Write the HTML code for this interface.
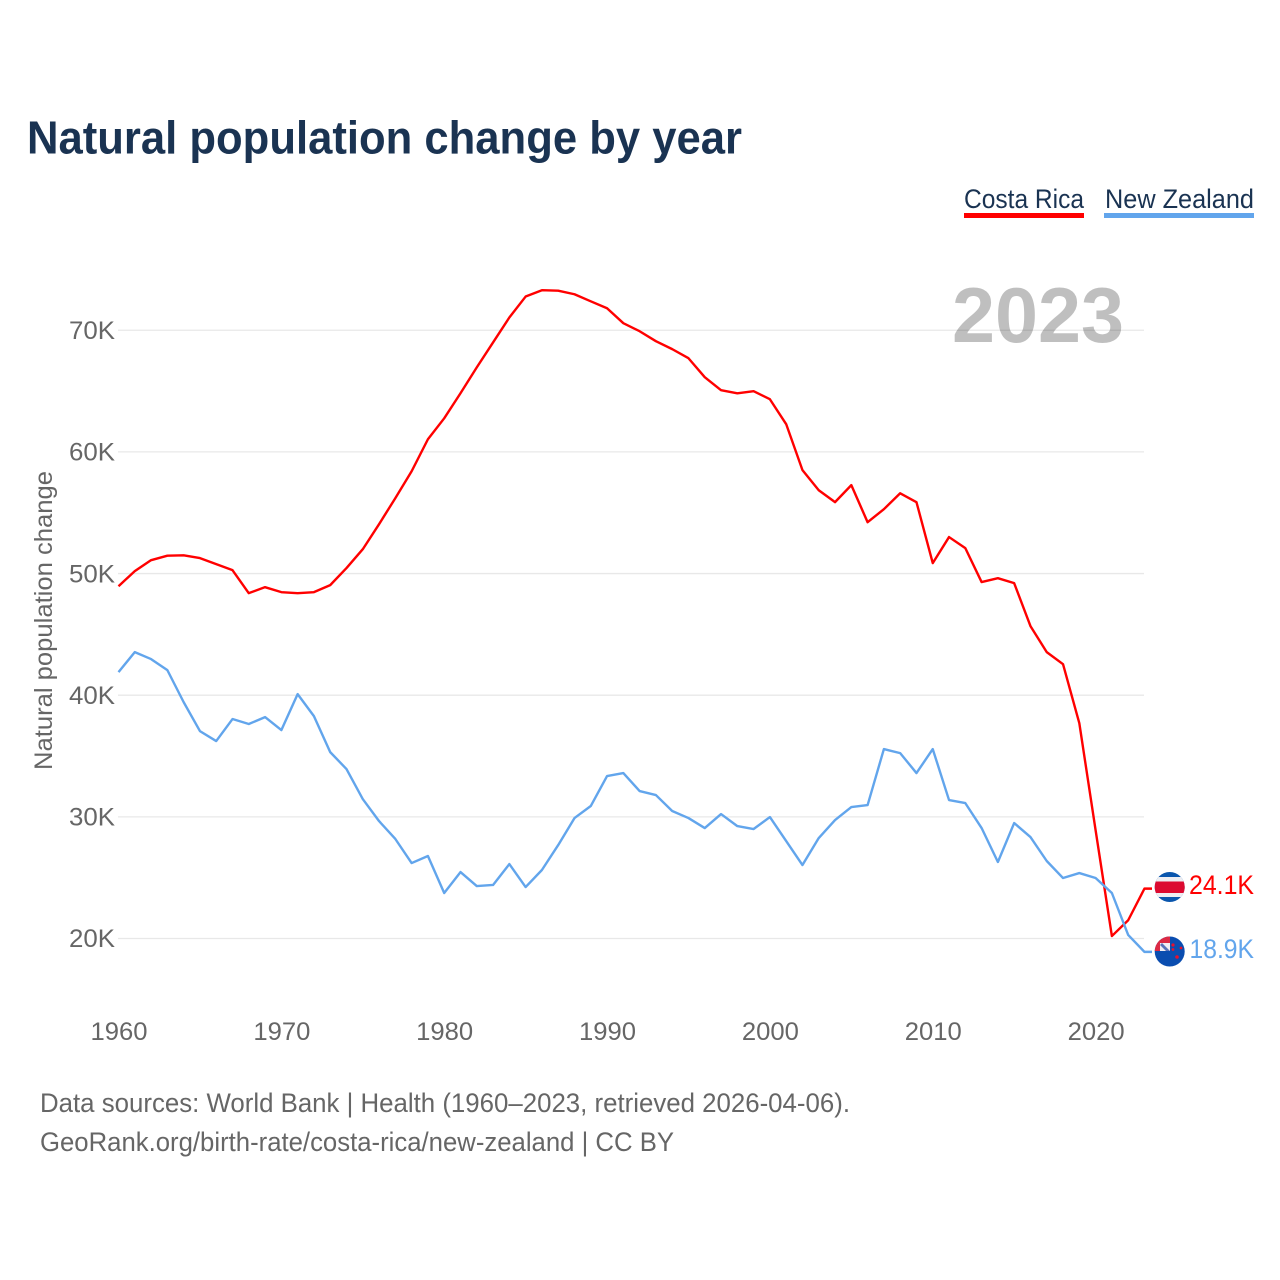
<!DOCTYPE html>
<html lang="en">
<head>
<meta charset="utf-8">
<title>Natural population change by year</title>
<style>
html,body{margin:0;padding:0;background:#fff;}
svg{display:block;font-family:"Liberation Sans",sans-serif;}
</style>
</head>
<body>
<svg id="chart" xmlns="http://www.w3.org/2000/svg" width="1280" height="1280" viewBox="0 0 1280 1280">
  <rect x="0" y="0" width="1280" height="1280" fill="#ffffff"/>
  <text x="27" y="153.5" font-size="46" font-weight="700" fill="#1a3352" textLength="715" lengthAdjust="spacingAndGlyphs">Natural population change by year</text>

  <g>
    <text x="964" y="208" font-size="27" fill="#1a3352" textLength="120" lengthAdjust="spacingAndGlyphs">Costa Rica</text>
    <rect x="964" y="213" width="120" height="5" fill="#ff0000"/>
  </g>
  <g>
    <text x="1105" y="208" font-size="27" fill="#1a3352" textLength="149" lengthAdjust="spacingAndGlyphs">New Zealand</text>
    <rect x="1104" y="213" width="150" height="5" fill="#62a5ec"/>
  </g>

  <g id="grid"></g>
  <text x="952" y="342" font-size="78" font-weight="700" fill="#000000" fill-opacity="0.25" textLength="172" lengthAdjust="spacingAndGlyphs">2023</text>
  <g id="yticks"></g>
  <g id="xticks"></g>
  <text transform="translate(52 770) rotate(-90)" x="0" y="0" font-size="25" fill="#666666" textLength="299" lengthAdjust="spacingAndGlyphs">Natural population change</text>

  <path id="line-cr" fill="none" stroke="#ff0000" stroke-width="2.4" stroke-linejoin="round"/>
  <path id="line-nz" fill="none" stroke="#62a5ec" stroke-width="2.4" stroke-linejoin="round"/>

  <defs>
    <clipPath id="clip-cr"><circle cx="1169.7" cy="887" r="15"/></clipPath>
    <clipPath id="clip-nz"><circle cx="1169.7" cy="951.5" r="15"/></clipPath>
  </defs>

  <g clip-path="url(#clip-nz)">
    <rect x="1154" y="936" width="32" height="32" fill="#0a4db0"/>
    <rect x="1154" y="936" width="16" height="15" fill="#dd2a44"/>
    <path d="M1160 951 V943 H1170 V951 Z" fill="#f2eef2"/>
    <path d="M1162 943 L1170 951 H1166 L1160 945 Z" fill="#5a72b8"/>
    <circle cx="1173" cy="945" r="1.6" fill="#e8112d"/>
    <circle cx="1181" cy="948" r="1.4" fill="#e8112d"/>
    <circle cx="1173" cy="949.5" r="1.4" fill="#e8112d"/>
    <circle cx="1177" cy="957" r="1.8" fill="#e8112d"/>
  </g>
  <text id="label-nz" x="1189.5" y="958" font-size="27" fill="#62a5ec" textLength="64.5" lengthAdjust="spacingAndGlyphs"></text>

  <g clip-path="url(#clip-cr)">
    <rect x="1154" y="871" width="32" height="32" fill="#0a56ad"/>
    <rect x="1154" y="877" width="32" height="20" fill="#eeeef2"/>
    <rect x="1154" y="881.5" width="32" height="11.5" fill="#dc0a30"/>
  </g>
  <text id="label-cr" x="1189" y="894" font-size="27" fill="#ff0000" textLength="65" lengthAdjust="spacingAndGlyphs"></text>

  <text x="40" y="1112" font-size="27" fill="#666666" textLength="810" lengthAdjust="spacingAndGlyphs">Data sources: World Bank | Health (1960–2023, retrieved 2026-04-06).</text>
  <text x="40" y="1151" font-size="27" fill="#666666" textLength="634" lengthAdjust="spacingAndGlyphs">GeoRank.org/birth-rate/costa-rica/new-zealand | CC BY</text>
</svg>
<script>
const firstYear = 1960;
const costaRica = [48.96,50.2,51.1,51.47,51.5,51.27,50.77,50.28,48.39,48.88,48.47,48.39,48.47,49.05,50.45,52.0,54.06,56.2,58.41,61.04,62.76,64.82,66.95,69.0,71.05,72.77,73.29,73.25,72.96,72.38,71.81,70.58,69.92,69.1,68.45,67.7,66.14,65.07,64.82,64.99,64.33,62.28,58.5,56.85,55.87,57.27,54.22,55.29,56.6,55.87,50.86,53.0,52.09,49.3,49.62,49.21,45.68,43.54,42.55,37.7,28.9,20.2,21.5,24.1];
const newZealand = [41.9,43.54,42.97,42.06,39.43,37.05,36.23,38.04,37.63,38.2,37.13,40.09,38.28,35.32,33.93,31.46,29.65,28.18,26.2,26.78,23.74,25.46,24.31,24.4,26.12,24.23,25.63,27.68,29.9,30.89,33.35,33.6,32.12,31.79,30.48,29.9,29.08,30.23,29.24,29.0,29.98,28.01,26.04,28.26,29.74,30.8,30.97,35.57,35.24,33.6,35.57,31.38,31.13,29.08,26.29,29.49,28.34,26.37,24.97,25.38,24.97,23.74,20.29,18.9];
const yTicks = [20,30,40,50,60,70];
const xTicks = [1960,1970,1980,1990,2000,2010,2020];

const SVGNS = 'http://www.w3.org/2000/svg';
function xScale(year){ return 118.5 + (year - 1960) * 16.285; }
function yScale(v){ return 938.5 - (v - 20) * 12.165; }
function fmt(v){ return v.toFixed(1) + 'K'; }

const grid = document.getElementById('grid');
const yG = document.getElementById('yticks');
const xG = document.getElementById('xticks');

yTicks.forEach(function(t){
  const y = yScale(t);
  const ln = document.createElementNS(SVGNS,'line');
  
  
  ln.setAttribute('x1', 118); ln.setAttribute('x2', 1144);
  ln.setAttribute('y1', y); ln.setAttribute('y2', y);
  ln.setAttribute('stroke', '#e8e8e8'); ln.setAttribute('stroke-width', '1.3');
  grid.appendChild(ln);
  const tx = document.createElementNS(SVGNS,'text');
  
  
  tx.setAttribute('x', 69); tx.setAttribute('y', y + 8.7);
  tx.setAttribute('font-size', '25'); tx.setAttribute('fill', '#666666');
  tx.setAttribute('textLength', '46'); tx.setAttribute('lengthAdjust', 'spacingAndGlyphs');
  tx.textContent = t + 'K';
  yG.appendChild(tx);
});

xTicks.forEach(function(t){
  const tx = document.createElementNS(SVGNS,'text');
  
  
  tx.setAttribute('x', xScale(t) - 28); tx.setAttribute('y', 1040);
  tx.setAttribute('font-size', '25'); tx.setAttribute('fill', '#666666');
  tx.setAttribute('textLength', '57'); tx.setAttribute('lengthAdjust', 'spacingAndGlyphs');
  tx.textContent = t;
  xG.appendChild(tx);
});

function linePath(values){
  let d = values.map(function(v,i){
    return (i ? 'L' : 'M') + xScale(firstYear + i).toFixed(2) + ' ' + yScale(v).toFixed(2);
  }).join(' ');
  d += ' H1152';
  return d;
}
document.getElementById('line-cr').setAttribute('d', linePath(costaRica));
document.getElementById('line-nz').setAttribute('d', linePath(newZealand));
document.getElementById('label-cr').textContent = fmt(costaRica[costaRica.length - 1]);
document.getElementById('label-nz').textContent = fmt(newZealand[newZealand.length - 1]);
</script>
</body>
</html>
